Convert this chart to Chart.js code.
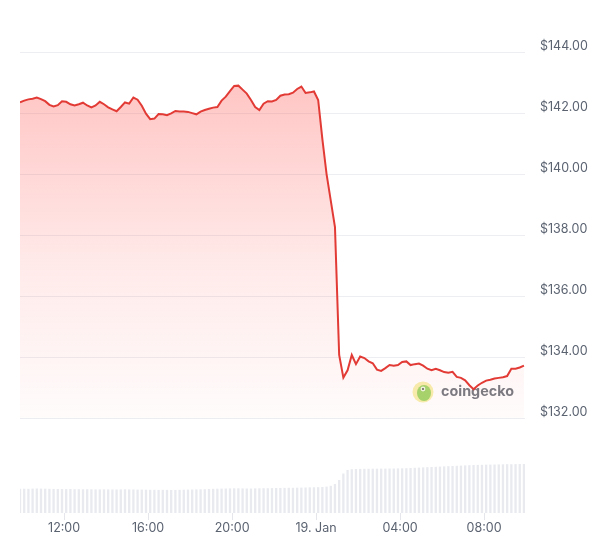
<!DOCTYPE html>
<html>
<head>
<meta charset="utf-8">
<script src="https://cdn.jsdelivr.net/npm/chart.js@4.4.1/dist/chart.umd.min.js"></script>
<style>
  html, body { margin: 0; padding: 0; background: #ffffff; }
  #wrap { width: 602px; height: 538px; position: relative; }
</style>
</head>
<body>
<div id="wrap"><canvas id="price-chart"></canvas></div>
<script>
// hours relative to 18 Jan 12:00, one sample every 12 minutes
const startHour = -2.1;
const stepHour = 0.2;

const prices = [
  142.36, 142.42, 142.46, 142.48, 142.52, 142.47, 142.40, 142.28, 142.23, 142.27,
  142.40, 142.38, 142.30, 142.26, 142.30, 142.35, 142.26, 142.20, 142.26, 142.38,
  142.30, 142.20, 142.13, 142.07, 142.21, 142.36, 142.32, 142.52, 142.45, 142.25,
  141.99, 141.81, 141.83, 141.98, 141.97, 141.94, 142.00, 142.08, 142.06, 142.06,
  142.05, 142.01, 141.97, 142.06, 142.11, 142.15, 142.19, 142.21, 142.42, 142.55,
  142.73, 142.90, 142.91, 142.78, 142.65, 142.44, 142.21, 142.11, 142.32, 142.40,
  142.39, 142.44, 142.58, 142.62, 142.63, 142.68, 142.80, 142.88, 142.67, 142.69,
  142.72, 142.44, 141.16, 140.01, 139.14, 138.27, 134.08, 133.34, 133.58, 134.08,
  133.78, 134.03, 133.98, 133.87, 133.81, 133.60, 133.56, 133.65, 133.75, 133.73,
  133.75, 133.85, 133.87, 133.75, 133.78, 133.80, 133.73, 133.63, 133.58, 133.63,
  133.58, 133.52, 133.50, 133.53, 133.36, 133.33, 133.25, 133.09, 132.96, 133.08,
  133.17, 133.24, 133.27, 133.31, 133.33, 133.35, 133.39, 133.63, 133.63, 133.67,
  133.73,
];

// 24h volume, billions USD
const volumes = [
  2.42, 2.43, 2.42, 2.44, 2.45, 2.44, 2.43, 2.42, 2.41, 2.40,
  2.40, 2.39, 2.40, 2.38, 2.38, 2.37, 2.38, 2.37, 2.36, 2.36,
  2.37, 2.36, 2.35, 2.35, 2.36, 2.37, 2.36, 2.35, 2.34, 2.34,
  2.33, 2.32, 2.32, 2.31, 2.32, 2.31, 2.30, 2.31, 2.32, 2.33,
  2.34, 2.35, 2.36, 2.37, 2.38, 2.40, 2.42, 2.43, 2.44, 2.45,
  2.46, 2.47, 2.47, 2.46, 2.45, 2.45, 2.46, 2.47, 2.48, 2.48,
  2.49, 2.50, 2.50, 2.51, 2.52, 2.52, 2.53, 2.54, 2.55, 2.56,
  2.57, 2.58, 2.60, 2.64, 2.72, 2.90, 3.30, 3.95, 4.30, 4.38,
  4.40, 4.41, 4.42, 4.42, 4.43, 4.43, 4.44, 4.44, 4.45, 4.45,
  4.46, 4.47, 4.48, 4.50, 4.52, 4.54, 4.56, 4.58, 4.60, 4.62,
  4.64, 4.66, 4.68, 4.70, 4.72, 4.74, 4.76, 4.78, 4.80, 4.81,
  4.82, 4.83, 4.84, 4.85, 4.86, 4.87, 4.88, 4.88, 4.89, 4.90,
  4.90,
];

const xTickValues = [0, 4, 8, 12, 16, 20];
const xTickLabels = ['12:00', '16:00', '20:00', '19. Jan', '04:00', '08:00'];
const yTickValues = [132, 134, 136, 138, 140, 142, 144];

const hours = prices.map((_, index) => startHour + index * stepHour);

const watermarkPlugin = {
  id: 'watermark',
  beforeDatasetsDraw(chart) {
    const { ctx } = chart;
    const cx = 423;
    const cy = 392;
    ctx.save();
    ctx.globalAlpha = 0.8;
    ctx.fillStyle = '#f5ec9a';
    ctx.beginPath();
    ctx.arc(cx, cy, 10.5, 0, Math.PI * 2);
    ctx.fill();
    ctx.fillStyle = '#8fcf5c';
    ctx.beginPath();
    ctx.ellipse(cx + 1, cy + 1, 7, 8, 0, 0, Math.PI * 2);
    ctx.fill();
    ctx.fillStyle = '#ffffff';
    ctx.beginPath();
    ctx.arc(cx, cy - 3, 2.4, 0, Math.PI * 2);
    ctx.fill();
    ctx.fillStyle = '#3b3b3b';
    ctx.beginPath();
    ctx.arc(cx, cy - 3, 1, 0, Math.PI * 2);
    ctx.fill();
    ctx.globalAlpha = 0.9;
    ctx.fillStyle = '#686d75';
    ctx.textBaseline = 'alphabetic';
    ctx.textAlign = 'left';
    let size = 16;
    ctx.font = `700 ${size}px Inter, sans-serif`;
    const w = ctx.measureText('coingecko').width;
    size = size * 73 / w;
    ctx.font = `700 ${size}px Inter, sans-serif`;
    ctx.fillText('coingecko', 441, 396);
    ctx.restore();
  },
};

const canvas = document.getElementById('price-chart');

new Chart(canvas, {
  data: {
    datasets: [
      {
        type: 'line',
        label: 'Price',
        data: hours.map((h, i) => ({ x: h, y: prices[i] })),
        yAxisID: 'y',
        borderColor: '#e23b36',
        borderWidth: 2,
        pointRadius: 0,
        tension: 0,
        fill: { target: { value: 132 } },
        backgroundColor(context) {
          const area = context.chart.chartArea;
          if (!area) {
            return 'rgba(255, 90, 90, 0.2)';
          }
          const g = context.chart.ctx.createLinearGradient(0, 80, 0, 420);
          g.addColorStop(0, 'rgba(255, 85, 80, 0.34)');
          g.addColorStop(0.55, 'rgba(255, 85, 80, 0.12)');
          g.addColorStop(1, 'rgba(255, 85, 80, 0.02)');
          return g;
        },
        order: 0,
      },
      {
        type: 'bar',
        label: 'Volume',
        data: hours.map((h, i) => ({ x: h, y: volumes[i] })),
        yAxisID: 'vol',
        backgroundColor: '#e8eaef',
        barPercentage: 0.55,
        categoryPercentage: 1,
        order: 1,
      },
    ],
  },
  options: {
    responsive: true,
    maintainAspectRatio: false,
    animation: false,
    layout: {
      padding: { top: 10, left: 20, right: 0, bottom: 0 },
    },
    plugins: {
      legend: { display: false },
      tooltip: { enabled: false },
    },
    scales: {
      x: {
        type: 'linear',
        offset: false,
        min: -2.1,
        max: 21.95,
        afterBuildTicks(scale) {
          scale.ticks = xTickValues.map((value) => ({ value }));
        },
        afterFit(scale) {
          scale.height = 25;
          scale.paddingLeft = 0;
          scale.paddingRight = 0;
        },
        border: { display: false },
        grid: {
          offset: false,
          drawOnChartArea: false,
          drawTicks: true,
          tickLength: 7,
          tickColor: '#e4e6eb',
        },
        ticks: {
          autoSkip: false,
          maxRotation: 0,
          padding: 1,
          color: '#5b6371',
          font: { family: 'Inter, sans-serif', size: 12.5 },
          callback(value) {
            const index = xTickValues.indexOf(value);
            return index >= 0 ? xTickLabels[index] : '';
          },
        },
      },
      y: {
        position: 'right',
        min: 128.9,
        max: 145.39,
        afterBuildTicks(scale) {
          scale.ticks = yTickValues.map((value) => ({ value }));
        },
        afterFit(scale) {
          scale.width = 77;
          scale.paddingTop = 0;
          scale.paddingBottom = 0;
        },
        border: { display: false },
        grid: {
          color: '#eceef2',
          drawTicks: false,
        },
        ticks: {
          padding: 15,
          labelOffset: -6,
          color: '#5b6371',
          font: { family: 'Inter, sans-serif', size: 12.5 },
          callback(value) {
            return `$${Number(value).toFixed(2)}`;
          },
        },
      },
      vol: {
        display: false,
        min: 0,
        max: 50.3,
      },
    },
  },
  plugins: [watermarkPlugin],
});
</script>
</body>
</html>
